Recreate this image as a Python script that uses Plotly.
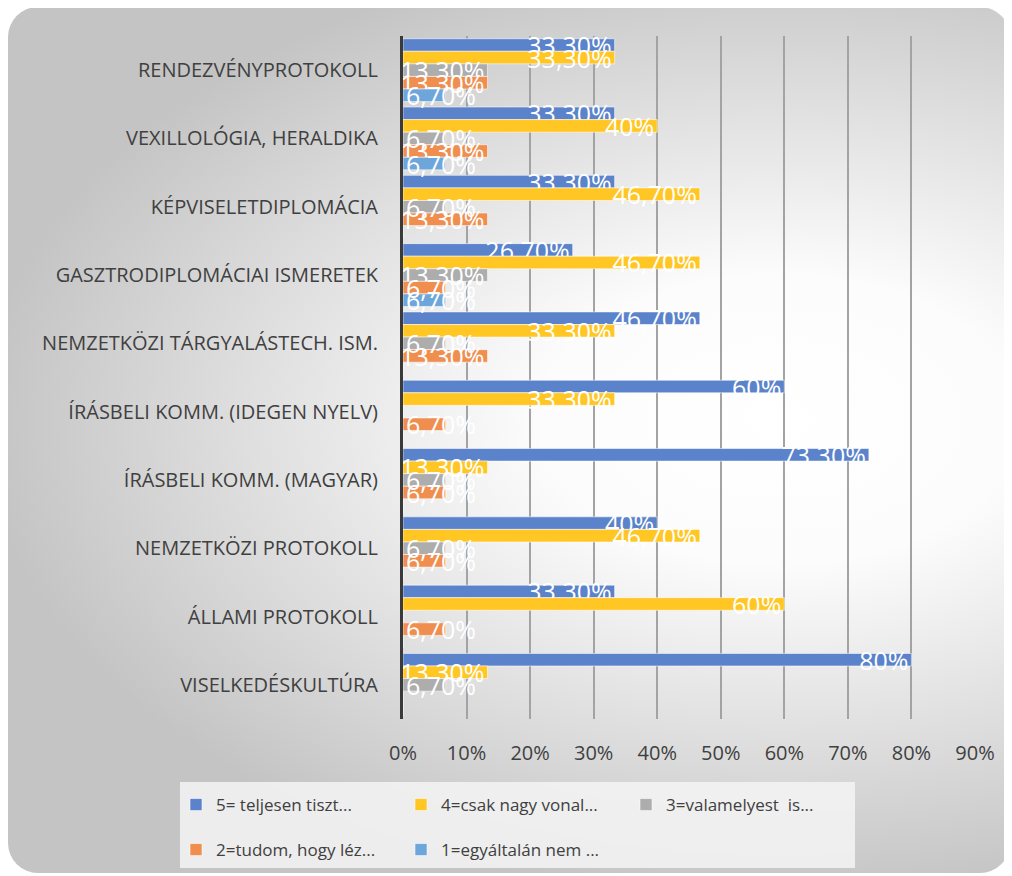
import base64
import plotly.graph_objects as go

categories = [
    "RENDEZVÉNYPROTOKOLL",
    "VEXILLOLÓGIA, HERALDIKA",
    "KÉPVISELETDIPLOMÁCIA",
    "GASZTRODIPLOMÁCIAI ISMERETEK",
    "NEMZETKÖZI TÁRGYALÁSTECH. ISM.",
    "ÍRÁSBELI KOMM. (IDEGEN NYELV)",
    "ÍRÁSBELI KOMM. (MAGYAR)",
    "NEMZETKÖZI PROTOKOLL",
    "ÁLLAMI PROTOKOLL",
    "VISELKEDÉSKULTÚRA",
]

series_names = [
    "5= teljesen tiszt...",
    "4=csak nagy vonal...",
    "3=valamelyest  is...",
    "2=tudom, hogy léz...",
    "1=egyáltalán nem ...",
]

s5 = [33.3, 33.3, 33.3, 26.7, 46.7, 60, 73.3, 40, 33.3, 80]
s4 = [33.3, 40, 46.7, 46.7, 33.3, 33.3, 13.3, 46.7, 60, 13.3]
s3 = [13.3, 6.7, 6.7, 13.3, 6.7, 0, 6.7, 6.7, 0, 6.7]
s2 = [13.3, 13.3, 13.3, 6.7, 13.3, 6.7, 6.7, 6.7, 6.7, 0]
s1 = [6.7, 6.7, 0, 6.7, 0, 0, 0, 0, 0, 0]
series_values = [s5, s4, s3, s2, s1]

colors = ["#5A83CB", "#FFC624", "#ADADAD", "#EF8E4F", "#6CA6DB"]

x_ticks = [0, 10, 20, 30, 40, 50, 60, 70, 80, 90]
x_ticklabels = [f"{t}%" for t in x_ticks]

# labels that do not fit inside their bar start at the bar's base (Excel behaviour)
FIT_LIMIT = 10


def fmt(v):
    if float(v).is_integer():
        return f"{int(v)}%"
    return f"{v:.2f}%".replace(".", ",")


# page body margin shifts the figure by 8px on screen
OFF = 8
W_FIG, H_FIG = 1012, 876
ML, MR, MT, MB = 395, 45, 28, 165
PW = W_FIG - ML - MR
PH = H_FIG - MT - MB


def px(x):  # screen x -> paper
    return (x - OFF - ML) / PW


def py(y):  # screen y -> paper
    return (H_FIG - MB - (y - OFF)) / PH


FONT = "Open Sans"
LABEL_FONT = dict(color="white", size=25, family=FONT)

fig = go.Figure()
for i, (name, vals, col) in enumerate(zip(series_names, series_values, colors)):
    fig.add_trace(go.Bar(
        name=name,
        y=categories,
        x=vals,
        orientation="h",
        offsetgroup=str(i),
        marker=dict(color=col, line=dict(color="rgba(255,255,255,0.55)", width=1)),
        text=[fmt(v) if v >= FIT_LIMIT else "" for v in vals],
        textposition="inside",
        insidetextanchor="end",
        constraintext="none",
        textangle=0,
        textfont=LABEL_FONT,
        legend="legend" if i < 3 else "legend2",
        hoverinfo="x+y+name",
    ))

for i, (name, vals) in enumerate(zip(series_names, series_values)):
    fig.add_trace(go.Bar(
        name=name,
        y=categories,
        x=vals,
        orientation="h",
        offsetgroup=str(i),
        marker=dict(color="rgba(0,0,0,0)", line=dict(width=0)),
        text=[fmt(v) if v < FIT_LIMIT else "" for v in vals],
        textposition="inside",
        insidetextanchor="start",
        constraintext="none",
        textangle=0,
        textfont=LABEL_FONT,
        showlegend=False,
        hoverinfo="skip",
    ))

cx, cy = 772, 412
svg = f'''<svg xmlns="http://www.w3.org/2000/svg" width="{W_FIG}" height="{H_FIG}" viewBox="0 0 {W_FIG} {H_FIG}" preserveAspectRatio="none">
<defs>
<radialGradient id="g" gradientUnits="userSpaceOnUse" cx="{cx}" cy="{cy}" r="800"
 gradientTransform="translate({cx},{cy}) scale(1,0.6) translate(-{cx},-{cy})">
<stop offset="0" stop-color="#ffffff"/>
<stop offset="0.3" stop-color="#fcfcfc"/>
<stop offset="1" stop-color="#c4c4c4"/>
</radialGradient>
</defs>
<rect x="0" y="0" width="{W_FIG}" height="{H_FIG}" fill="#ffffff"/>
<rect x="0" y="-1" width="1002" height="866" rx="30" ry="30" fill="url(#g)"/>
</svg>'''
uri = "data:image/svg+xml;base64," + base64.b64encode(svg.encode("utf-8")).decode("ascii")

fig.add_layout_image(
    source=uri, xref="paper", yref="paper",
    x=-ML / PW, y=1 + MT / PH, sizex=W_FIG / PW, sizey=H_FIG / PH,
    xanchor="left", yanchor="top", sizing="stretch", layer="below",
)

fig.add_shape(
    type="rect", xref="paper", yref="paper",
    x0=px(180), x1=px(855), y0=py(868), y1=py(782),
    fillcolor="rgba(244,244,244,0.85)", line=dict(width=0), layer="below",
)

legend_common = dict(
    orientation="h",
    bgcolor="rgba(0,0,0,0)",
    font=dict(size=17, color="#404040", family=FONT),
    entrywidth=180,
    entrywidthmode="pixels",
    itemwidth=30,
    traceorder="normal",
    xanchor="left",
    yanchor="middle",
)

fig.update_layout(
    width=W_FIG, height=H_FIG,
    margin=dict(l=ML, r=MR, t=MT, b=MB),
    paper_bgcolor="white",
    plot_bgcolor="rgba(0,0,0,0)",
    barmode="group",
    bargap=0.08,
    bargroupgap=0,
    font=dict(family=FONT, color="#404040"),
    legend=dict(x=px(176), y=py(805), **legend_common),
    legend2=dict(x=px(176), y=py(850), **legend_common),
    xaxis=dict(
        range=[0, 90],
        tickvals=x_ticks,
        ticktext=x_ticklabels,
        showgrid=True,
        gridcolor="#A3A3A3",
        gridwidth=1.5,
        zeroline=False,
        showline=False,
        tickfont=dict(size=20, color="#404040", family=FONT),
        ticklabelstandoff=20,
    ),
    yaxis=dict(
        type="category",
        categoryorder="array",
        categoryarray=categories,
        autorange="reversed",
        showline=True,
        linecolor="#3A3A3A",
        linewidth=3,
        showgrid=False,
        tickfont=dict(size=20, color="#404040", family=FONT),
        ticklabelstandoff=18,
    ),
)

fig.write_html("out.html")
